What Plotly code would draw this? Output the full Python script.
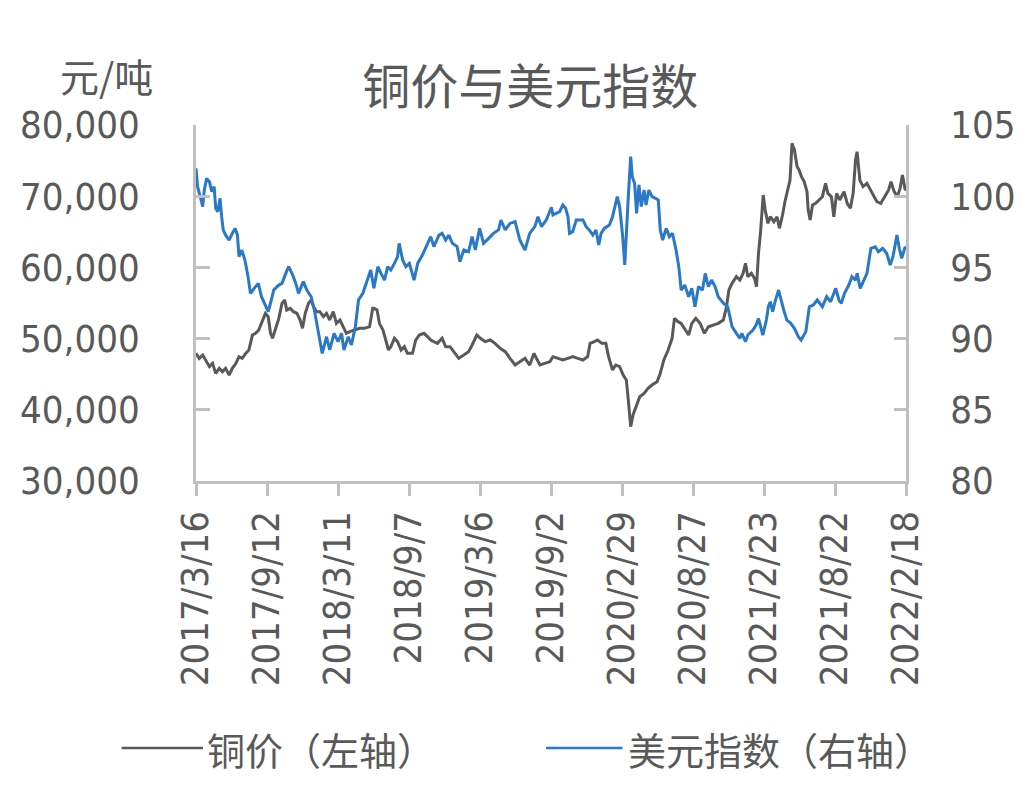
import pandas as pd
import plotly.graph_objects as go

START = pd.Timestamp('2017-03-16')

# 铜价 (元/吨): days after 2017-03-16 and price
copper_day = [
    0, 8, 17, 25, 34, 42, 50, 59, 67, 75, 84, 92, 101, 109, 117, 126, 134, 143, 151, 159,
    168, 176, 183, 189, 194, 201, 210, 218, 225, 230, 239, 247, 256, 264, 270, 277, 285, 292,
    298, 306, 314, 323, 331, 339, 348, 356, 365, 373, 381, 390, 402, 415, 427, 440, 448,
    451, 459, 465, 474, 482, 488, 494, 503, 511, 520, 528, 536, 549, 557, 566, 578, 587, 595,
    603, 612, 624, 633, 644, 654, 666, 679, 691, 700, 712, 721, 733, 746, 758, 771, 784, 796,
    809, 821, 834, 846, 857, 863, 872, 884, 897,
    905, 918, 930, 943, 955, 968, 981, 993, 999, 1010, 1018, 1029, 1039, 1046, 1056, 1064,
    1074, 1083, 1091, 1096, 1102, 1108, 1116, 1125, 1136, 1146, 1156, 1169, 1177, 1186, 1197,
    1207, 1213, 1222, 1230, 1240, 1249, 1257, 1267, 1278, 1289, 1299, 1312, 1324, 1337, 1342,
    1345, 1351, 1359, 1370, 1379, 1387, 1393, 1399, 1408, 1416, 1421, 1426, 1431, 1438, 1443,
    1450, 1456, 1465, 1473, 1479, 1487, 1493, 1500, 1506, 1511, 1517, 1524, 1529, 1535, 1542,
    1549, 1552, 1557, 1563, 1571, 1580, 1588, 1596, 1602, 1611, 1617, 1624, 1632, 1643, 1651,
    1659, 1666, 1672, 1676, 1683, 1691, 1701, 1710, 1718, 1726, 1736, 1747, 1756, 1762, 1770,
    1778, 1785, 1791, 1798, 1800,
]
copper_vals = [
    47930, 47230, 47690, 46990, 46060, 46520, 45120, 45820, 45350, 45820, 44880, 45820, 46520,
    47460, 47230, 47930, 48400, 50500, 50740, 51200,
    52380, 53550, 53080, 50740, 50040, 51200, 52840, 54950, 55420, 54020, 54250, 53780, 53550,
    52610, 51440, 53550, 54950, 55420,
    54480, 53780, 53780, 53080, 53550, 52610, 53780, 52140, 52610, 51670, 50740, 50970, 51200,
    51440, 51440, 51670, 54250,
    54250, 54020, 52140, 51200, 49800, 48400, 48860, 50040, 49570, 48400, 48860, 47930, 47930,
    49800, 50500, 50740, 50270, 49800,
    49570, 49330, 50040, 48860, 48860, 48160, 47230, 47690, 48160, 49100, 50500, 50040, 49570,
    49800, 49330, 48630, 48160, 47230,
    46290, 46760, 47230, 46290, 47930, 47230, 46290, 46520, 46760,
    47460, 47230, 46990, 47230, 47460, 47230, 46990, 47460, 49330, 49570, 49800, 49330, 49330,
    47460, 45590, 46290,
    46060, 44880, 44180, 41370, 37630, 39270, 40440, 41840, 42310, 43010, 43480, 43950, 45120,
    46990, 48400,
    50040, 52840, 52380, 52140, 51200, 50500, 52140, 52840, 52140, 50740, 51670, 51910, 52140,
    52610, 54020,
    54480, 56820, 57760, 58700, 58230, 59170, 60570, 58700, 59170, 58460, 57290, 61970, 64780,
    70170, 68060,
    66190, 67120, 66420, 67120, 65490, 67360, 69230, 70870, 72270, 77430, 76490, 74150, 73680,
    72740, 72040,
    70640, 68060, 66660, 68760, 69000, 69470, 69930, 71810, 70400, 69930, 67120, 70400, 69470,
    70640, 69000,
    68300, 70400, 75080, 76250, 72270, 71340, 71810, 70870, 69930, 69230, 69000, 69930, 70870,
    72040, 70640,
    69930, 71100, 72980, 70870, 71000,
]

# 美元指数: days after 2017-03-16 and index level
dxy_day = [
    0, 4, 13, 17, 21, 27, 34, 40, 46, 50, 55, 59, 61, 65, 69, 75, 84, 92, 99, 105, 109, 116,
    124, 132, 138, 151, 158, 166, 174, 183, 191, 197, 210, 218, 231, 235, 245, 253, 260, 272,
    281, 292, 300, 310, 320, 331, 339, 350, 360, 369, 375, 386, 394, 404, 412, 423, 432, 443,
    451, 461, 469, 478, 486, 494, 503, 511, 515, 524, 532, 541, 553, 562, 574, 587, 595, 603,
    616, 624, 633, 641, 650, 662, 669, 679, 691, 700, 708, 719, 729, 742, 754, 767, 773, 784,
    796, 809, 821, 834, 846, 859, 867, 876, 888, 901,
    905, 913, 922, 930, 937, 943, 947, 955, 964, 981, 989, 997, 1006, 1014, 1021, 1027, 1035,
    1048, 1056, 1063, 1068, 1074, 1081, 1087, 1091, 1096, 1102, 1106, 1112, 1117, 1123, 1129,
    1136, 1141, 1148, 1156, 1165, 1172, 1177, 1183, 1192, 1200, 1208, 1217, 1224, 1230, 1239,
    1249, 1257, 1265, 1274, 1284, 1291, 1299, 1307, 1316, 1324, 1337, 1348,
    1353, 1359, 1370, 1379, 1384, 1393, 1399, 1412, 1420, 1426, 1437, 1446, 1451, 1456, 1462,
    1468, 1477, 1483, 1490, 1498, 1508, 1517, 1527, 1534, 1546, 1555, 1565, 1575, 1588, 1599,
    1609, 1622, 1630, 1636, 1644, 1655, 1663, 1672, 1676, 1684, 1693, 1701, 1711, 1722, 1730,
    1741, 1751, 1760, 1767, 1777, 1783, 1789, 1798, 1800,
]
dxy_vals = [
    101.96, 100.67, 99.73, 99.27, 100.43, 101.25, 101.02, 100.32, 100.67, 99.15, 98.91, 99.73,
    99.85, 98.56, 97.63, 97.28, 96.92, 97.39, 97.74, 97.28, 95.75, 96.22,
    95.52, 94.35, 93.18, 93.65, 93.88, 92.94, 92.48, 91.89, 92.71, 93.41, 93.76, 93.88, 94.82,
    95.05, 94.47, 93.88, 93.18, 94.00,
    93.41, 92.94, 92.01, 90.60, 88.96, 90.13, 89.20, 90.37, 89.78, 90.37, 89.20, 90.13, 89.55,
    90.84, 92.71, 93.18, 93.88, 94.82,
    93.53, 95.05, 94.58, 94.11, 95.05, 94.82, 95.28, 95.75, 96.69, 95.52, 95.05, 95.28, 94.11,
    95.28, 95.87, 96.69, 97.16, 96.46,
    97.27, 97.39, 96.92, 97.27, 96.69, 96.46, 95.40, 96.22, 96.10, 97.16, 96.22, 97.74, 96.69,
    97.04, 97.39, 97.63, 98.33, 97.63,
    98.09, 98.21, 96.92, 96.22, 97.39, 97.86, 98.56, 97.86, 98.33, 99.22,
    98.68, 98.80, 98.91, 99.38, 99.15, 98.56, 97.39, 97.51, 98.33, 98.33, 97.86, 97.63, 97.27,
    97.63, 96.57, 97.39, 97.74,
    97.98, 98.56, 99.38, 99.97, 99.27, 97.39, 95.17, 97.86, 99.97, 102.78, 101.37, 100.90,
    98.80, 100.80, 99.27,
    100.43, 99.38, 100.43, 99.97, 99.85, 99.73, 97.63, 96.92, 97.74, 97.16, 97.39, 96.22,
    95.05, 93.41, 93.76,
    92.94, 93.53, 92.24, 93.65, 93.41, 94.58, 93.65, 94.11, 93.65, 92.94, 92.48, 92.24,
    91.54, 90.84, 90.37, 90.02, 90.37, 89.78, 90.25, 90.60, 90.95, 91.42, 90.25, 91.30, 92.24,
    92.59, 91.89,
    92.59, 93.41, 92.71, 92.01, 91.30, 91.07, 90.72, 90.13, 89.90, 90.49, 92.24, 92.36, 92.71,
    92.24, 92.94,
    92.59, 93.53, 92.71, 92.48, 93.18, 93.76, 94.35, 94.11, 94.58, 93.53, 94.11, 94.58, 96.34,
    96.45, 96.10,
    96.34, 95.99, 95.17, 95.75, 97.27, 96.34, 95.64, 96.45, 96.30,
]

tick_dates = ['2017-03-16', '2017-09-12', '2018-03-11', '2018-09-07', '2019-03-06', '2019-09-02',
              '2020-02-29', '2020-08-27', '2021-02-23', '2021-08-22', '2022-02-18']
tick_text = ['2017/3/16', '2017/9/12', '2018/3/11', '2018/9/7', '2019/3/6', '2019/9/2',
             '2020/2/29', '2020/8/27', '2021/2/23', '2021/8/22', '2022/2/18']

copper_dates = START + pd.to_timedelta(copper_day, unit='D')
dxy_dates = START + pd.to_timedelta(dxy_day, unit='D')

GRAY = '#595959'
AXIS = '#bfbfbf'
BLUE = '#2a78c8'
NUM_FONT = 'DejaVu Sans Condensed, Liberation Sans, sans-serif'
CJK_FONT = 'Noto Sans CJK SC, sans-serif'

fig = go.Figure()
fig.add_trace(go.Scatter(x=copper_dates, y=copper_vals, mode='lines', name='铜价（左轴）',
                         line=dict(color=GRAY, width=3)))
fig.add_trace(go.Scatter(x=dxy_dates, y=dxy_vals, mode='lines', name='美元指数（右轴）',
                         line=dict(color=BLUE, width=3), yaxis='y2'))

fig.update_layout(
    width=1020, height=790,
    margin=dict(l=182, r=122, t=117, b=317),
    paper_bgcolor='white', plot_bgcolor='white',
    showlegend=False,
    font=dict(family=NUM_FONT, color=GRAY, size=38),
    title=dict(text='铜价与美元指数', font=dict(family=CJK_FONT, size=48, color=GRAY),
               xref='paper', x=0.4707, xanchor='center',
               yref='container', y=0.9, yanchor='middle'),
    xaxis=dict(type='date', range=['2017-03-16', '2022-02-18'],
               tickvals=tick_dates, ticktext=tick_text, tickangle=-90,
               showgrid=False, zeroline=False, showline=True, linecolor=AXIS, linewidth=2.5,
               ticks='outside', ticklen=12, tickwidth=2.5, tickcolor=AXIS,
               tickfont=dict(family=NUM_FONT, size=38, color=GRAY)),
    yaxis=dict(range=[30000, 80000], dtick=10000, tickformat=',',
               showgrid=False, zeroline=False, showline=True, linecolor=AXIS, linewidth=2.5,
               ticks='inside', ticklen=14, tickwidth=2.5, tickcolor=AXIS,
               ticklabelstandoff=46,
               tickfont=dict(family=NUM_FONT, size=38, color=GRAY)),
    yaxis2=dict(range=[80, 105], dtick=5, overlaying='y', side='right',
                showgrid=False, zeroline=False, showline=True, linecolor=AXIS, linewidth=2.5,
                ticks='inside', ticklen=12, tickwidth=2.5, tickcolor=AXIS,
                ticklabelstandoff=34,
                tickfont=dict(family=NUM_FONT, size=38, color=GRAY)),
)

fig.add_annotation(text='元/吨', xref='paper', yref='paper', x=-0.1257, y=1.14,
                   xanchor='center', yanchor='middle', showarrow=False,
                   font=dict(family=CJK_FONT, size=39, color=GRAY))

# legend drawn by hand so the line samples match the original length
fig.add_shape(type='line', xref='paper', yref='paper', x0=-0.1047, x1=0.0098, y0=-0.75, y1=-0.75,
              line=dict(color=GRAY, width=2.5))
fig.add_annotation(text='铜价（左轴）', xref='paper', yref='paper', x=0.012, y=-0.75,
                   xanchor='left', yanchor='middle', showarrow=False,
                   font=dict(family=CJK_FONT, size=38, color=GRAY))
fig.add_shape(type='line', xref='paper', yref='paper', x0=0.493, x1=0.6006, y0=-0.75, y1=-0.75,
              line=dict(color=BLUE, width=2.5))
fig.add_annotation(text='美元指数（右轴）', xref='paper', yref='paper', x=0.606, y=-0.75,
                   xanchor='left', yanchor='middle', showarrow=False,
                   font=dict(family=CJK_FONT, size=38, color=GRAY))

fig.write_html('out.html')
